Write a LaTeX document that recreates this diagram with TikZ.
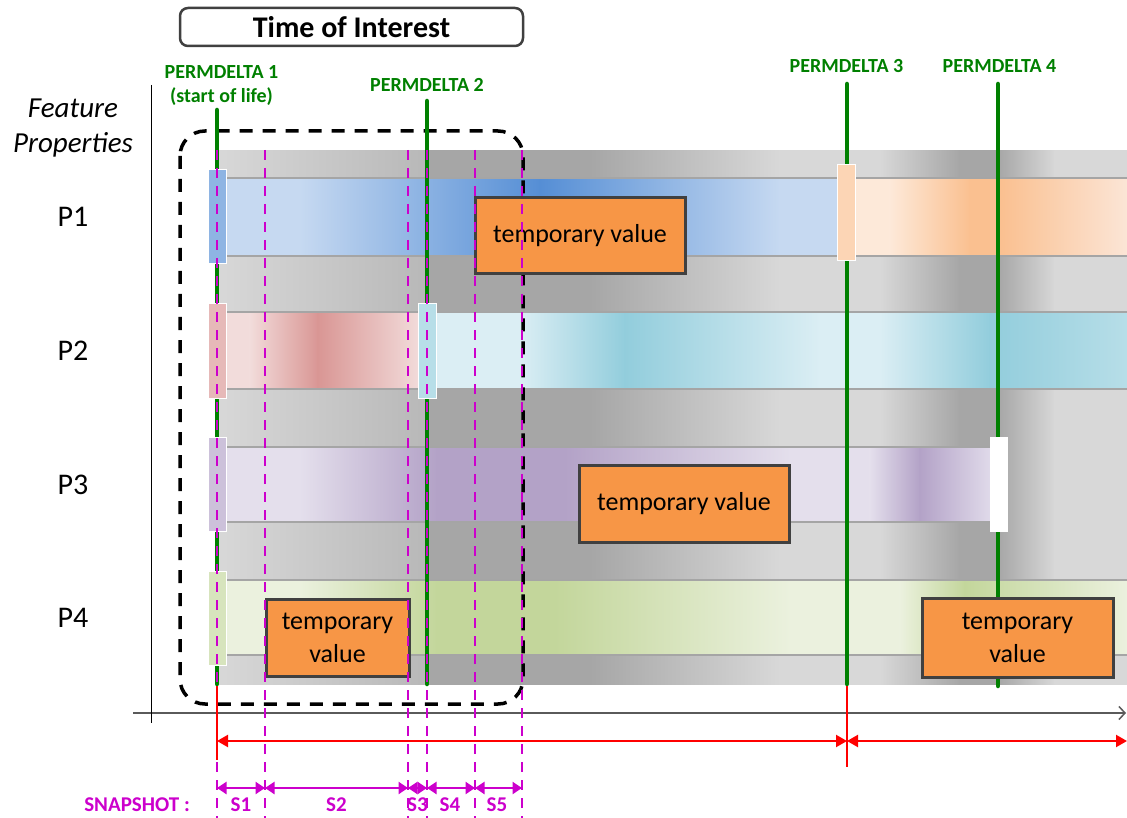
\documentclass[tikz,border=0pt]{standalone}
\usepackage{fontspec}
\setmainfont{Carlito}
\usetikzlibrary{arrows.meta}
\definecolor{pdgreen}{RGB}{0,128,0}
\definecolor{snapmag}{RGB}{204,0,204}
\definecolor{boxorange}{RGB}{247,150,70}
\definecolor{boxline}{RGB}{64,64,64}
\definecolor{edgegray}{RGB}{165,165,165}
\definecolor{axisgray}{RGB}{90,90,90}
\definecolor{grayL}{RGB}{216,216,216}
\definecolor{grayM}{RGB}{184,184,184}
\definecolor{grayD}{RGB}{166,166,166}
\definecolor{blueL}{RGB}{198,217,241}
\definecolor{blueD}{RGB}{85,142,213}
\definecolor{blueMk}{RGB}{142,180,227}
\definecolor{orL}{RGB}{253,233,217}
\definecolor{orD}{RGB}{250,192,144}
\definecolor{orR}{RGB}{251,229,214}
\definecolor{orMk}{RGB}{252,213,181}
\definecolor{redL}{RGB}{242,220,219}
\definecolor{redD}{RGB}{217,150,148}
\definecolor{redMk}{RGB}{230,185,184}
\definecolor{cyL}{RGB}{219,238,244}
\definecolor{cyD}{RGB}{146,205,220}
\definecolor{cyM}{RGB}{183,222,232}
\definecolor{puL}{RGB}{228,223,236}
\definecolor{puD}{RGB}{179,162,199}
\definecolor{puR}{RGB}{224,218,234}
\definecolor{puMk}{RGB}{204,193,218}
\definecolor{grL}{RGB}{235,241,222}
\definecolor{grD}{RGB}{195,214,155}
\definecolor{grMk}{RGB}{215,228,189}
\newcommand\gseg[6]{\shade[left color=#1,right color=#2] (#3-0.4,#5) rectangle (#4+0.4,#6);}
\tikzset{
  pdline/.style={draw=pdgreen, line width=4.5pt, line cap=round},
  snapdash/.style={draw=snapmag, line width=2.8pt, dash pattern=on 10pt off 8pt},
  redline/.style={draw=red, line width=2.2pt},
  redarrow/.style={redline, {Triangle[length=11pt,width=12pt]}-{Triangle[length=11pt,width=12pt]}},
  snaparrow/.style={draw=snapmag, line width=2.5pt, {Triangle[length=9.5pt,width=12pt]}-{Triangle[length=9.5pt,width=12pt]}},
  tmpbox/.style={draw=boxline, fill=boxorange, line width=3pt, font=\fontsize{26}{33}\selectfont, align=center, inner sep=0pt},
  marker/.style={draw=white, line width=1pt, minimum width=18pt, minimum height=94pt, inner sep=0pt},
  pdlabel/.style={text=pdgreen, font=\bfseries\fontsize{20}{23}\selectfont, inner sep=0pt},
  snaplabel/.style={text=snapmag, font=\bfseries\fontsize{21}{24}\selectfont, inner sep=0pt},
  plabel/.style={font=\fontsize{30}{34}\selectfont, inner sep=0pt},
  bandedge/.style={draw=edgegray, line width=1.5pt},
  toibox/.style={draw=boxline, line width=2.5pt, rounded corners=8pt, minimum width=343pt, minimum height=38pt, font=\bfseries\fontsize{30}{34}\selectfont, inner sep=0pt}
}
\begin{document}
\begin{tikzpicture}[x=1pt,y=-1pt]
\useasboundingbox (0,0) rectangle (1127,818);
\fill[white] (0,0) rectangle (1127,818);

% ---- gray background
\gseg{grayL}{grayM}{217}{427}{151}{684}
\gseg{grayD}{grayD}{427}{590}{151}{684}
\gseg{grayD}{grayL}{590}{780}{151}{684}
\gseg{grayL}{grayL}{780}{880}{151}{684}
\gseg{grayL}{grayD}{880}{960}{151}{684}
\gseg{grayD}{grayD}{960}{998}{151}{684}
\gseg{grayD}{grayL}{998}{1055}{151}{684}
\gseg{grayL}{grayL}{1055}{1127}{151}{684}

% ---- P1 band
\gseg{blueL}{blueL}{217}{300}{178}{256}
\gseg{blueL}{blueD}{300}{540}{178}{256}
\gseg{blueD}{blueL}{540}{780}{178}{256}
\gseg{blueL}{blueL}{780}{840}{178}{256}
\gseg{orL}{orL}{850}{890}{178}{256}
\gseg{orL}{orD}{890}{970}{178}{256}
\gseg{orD}{orD}{970}{1000}{178}{256}
\gseg{orD}{orR}{1000}{1127}{178}{256}
% ---- P2 band
\gseg{redL}{redL}{217}{250}{312}{389}
\gseg{redL}{redD}{250}{318}{312}{389}
\gseg{redD}{redL}{318}{420}{312}{389}
\gseg{cyL}{cyL}{435}{520}{312}{389}
\gseg{cyL}{cyD}{520}{625}{312}{389}
\gseg{cyD}{cyL}{625}{820}{312}{389}
\gseg{cyL}{cyL}{820}{880}{312}{389}
\gseg{cyL}{cyD}{880}{990}{312}{389}
\gseg{cyD}{cyM}{990}{1127}{312}{389}
% ---- P3 band
\gseg{puL}{puL}{217}{300}{447}{522}
\gseg{puL}{puD}{300}{437}{447}{522}
\gseg{puD}{puD}{437}{565}{447}{522}
\gseg{puD}{puL}{565}{790}{447}{522}
\gseg{puL}{puL}{790}{870}{447}{522}
\gseg{puL}{puD}{870}{920}{447}{522}
\gseg{puD}{puR}{920}{990}{447}{522}
% ---- P4 band
\gseg{grL}{grL}{217}{300}{580}{655}
\gseg{grL}{grD}{300}{437}{580}{655}
\gseg{grD}{grD}{437}{555}{580}{655}
\gseg{grD}{grL}{555}{790}{580}{655}
\gseg{grL}{grL}{790}{900}{580}{655}
\gseg{grL}{grD}{900}{965}{580}{655}
\gseg{grD}{grL}{965}{1127}{580}{655}

% band edges
\foreach \yy in {178,256,312,389,580,655}{\draw[bandedge] (217,\yy) -- (1127,\yy);}
\foreach \yy in {447,522}{\draw[bandedge] (217,\yy) -- (990,\yy);}

% ---- axes
\coordinate (ax0) at (133,713);
\coordinate (ax1) at (1126,713);
\coordinate (ay0) at (151,85);
\coordinate (ay1) at (151,723);
\draw[axisgray, line width=1.5pt, -{Straight Barb[length=6pt,width=13pt]}] (ax0) -- (ax1);
\draw[black, line width=1pt] (ay0) -- (ay1);

% ---- time of interest dashed frame
\draw[black, line width=3.5pt, dash pattern=on 13pt off 10pt, rounded corners=25pt] (180,131) rectangle (523,704);

% ---- PERMDELTA lines
\coordinate (pd1t) at (217,110); \coordinate (pd1b) at (217,684);
\coordinate (pd2t) at (427,101); \coordinate (pd2b) at (427,684);
\coordinate (pd3t) at (847,84);  \coordinate (pd3b) at (847,684);
\coordinate (pd4t) at (998,84);  \coordinate (pd4b) at (998,686);
\draw[pdline] (pd1t) -- (pd1b);
\draw[pdline] (pd2t) -- (pd2b);
\draw[pdline] (pd3t) -- (pd3b);
\draw[pdline] (pd4t) -- (pd4b);

% ---- markers
\node[marker, fill=blueMk] (m11) at (217,217) {};
\node[marker, fill=redMk]  (m21) at (217,351) {};
\node[marker, fill=cyM]    (m22) at (427.5,351) {};
\node[marker, fill=puMk]   (m31) at (217,484) {};
\node[marker, fill=grMk]   (m41) at (217,618) {};
\node[marker, fill=orMk, minimum height=96pt] (m13) at (846.5,213) {};
\node[marker, fill=white, minimum height=95pt, draw=none] (m34) at (998.5,484.5) {};

% ---- temporary value boxes
\node[tmpbox, minimum width=210pt, minimum height=76pt] (t1) at (580,236) {temporary value};
\node[tmpbox, minimum width=210pt, minimum height=77pt] (t2) at (684,503.5) {temporary value};
\node[tmpbox, minimum width=143pt, minimum height=77pt] (t3) at (337.5,637.5) {temporary\\value};
\node[tmpbox, minimum width=191pt, minimum height=79pt] (t4) at (1017.5,637.5) {temporary\\value};

% ---- snapshot dashed lines
\foreach \xx/\nm in {217/a,265/b,408/c,427/d,475/e,522/f}{
  \coordinate (sd\nm t) at (\xx,150);
  \coordinate (sd\nm b) at (\xx,818);
  \coordinate (s\nm) at (\xx,788);
  \draw[snapdash] (sd\nm t) -- (sd\nm b);
}

% ---- red lifespan arrows
\coordinate (r0t) at (217,686); \coordinate (r0b) at (217,760);
\coordinate (r1t) at (847,686); \coordinate (r1b) at (847,767);
\coordinate (r0) at (217,741); \coordinate (r1) at (847,741); \coordinate (r2) at (1127,741);
\draw[redline] (r0t) -- (r0b);
\draw[redline] (r1t) -- (r1b);
\draw[redarrow] (r0) -- (r1);
\draw[redarrow] (r1) -- (r2);

% ---- snapshot arrows
\draw[snaparrow] (sa) -- (sb);
\draw[snaparrow] (sb) -- (sc);
\draw[snaparrow] (sc) -- (sd);
\draw[snaparrow] (sd) -- (se);
\draw[snaparrow] (se) -- (sf);

% ---- texts
\node[toibox] (toi) at (351.5,27) {Time of Interest};
\node[pdlabel] (pd1l) at (221.5,72) {PERMDELTA 1};
\node[pdlabel] (pd1s) at (221.5,97) {(start of life)};
\node[pdlabel] (pd2l) at (427,85) {PERMDELTA 2};
\node[pdlabel] (pd3l) at (846.5,66) {PERMDELTA 3};
\node[pdlabel] (pd4l) at (999.5,66) {PERMDELTA 4};

\node[plabel, font=\itshape\fontsize{29}{34}\selectfont] (fp1) at (73,108) {Feature};
\node[plabel, font=\itshape\fontsize{29}{34}\selectfont] (fp2) at (73,145) {Properties};
\node[plabel] (p1) at (73,217) {P1};
\node[plabel] (p2) at (73,351) {P2};
\node[plabel] (p3) at (73,485) {P3};
\node[plabel] (p4) at (73,618) {P4};

\node[snaplabel, anchor=east] (snap) at (190,805) {SNAPSHOT :};
\node[snaplabel] (l1) at (241,805) {S1};
\node[snaplabel] (l2) at (336.5,805) {S2};
\node[snaplabel] (l3) at (417.5,805) {S3};
\node[snaplabel] (l4) at (450,805) {S4};
\node[snaplabel] (l5) at (497,805) {S5};
\end{tikzpicture}
\end{document}
